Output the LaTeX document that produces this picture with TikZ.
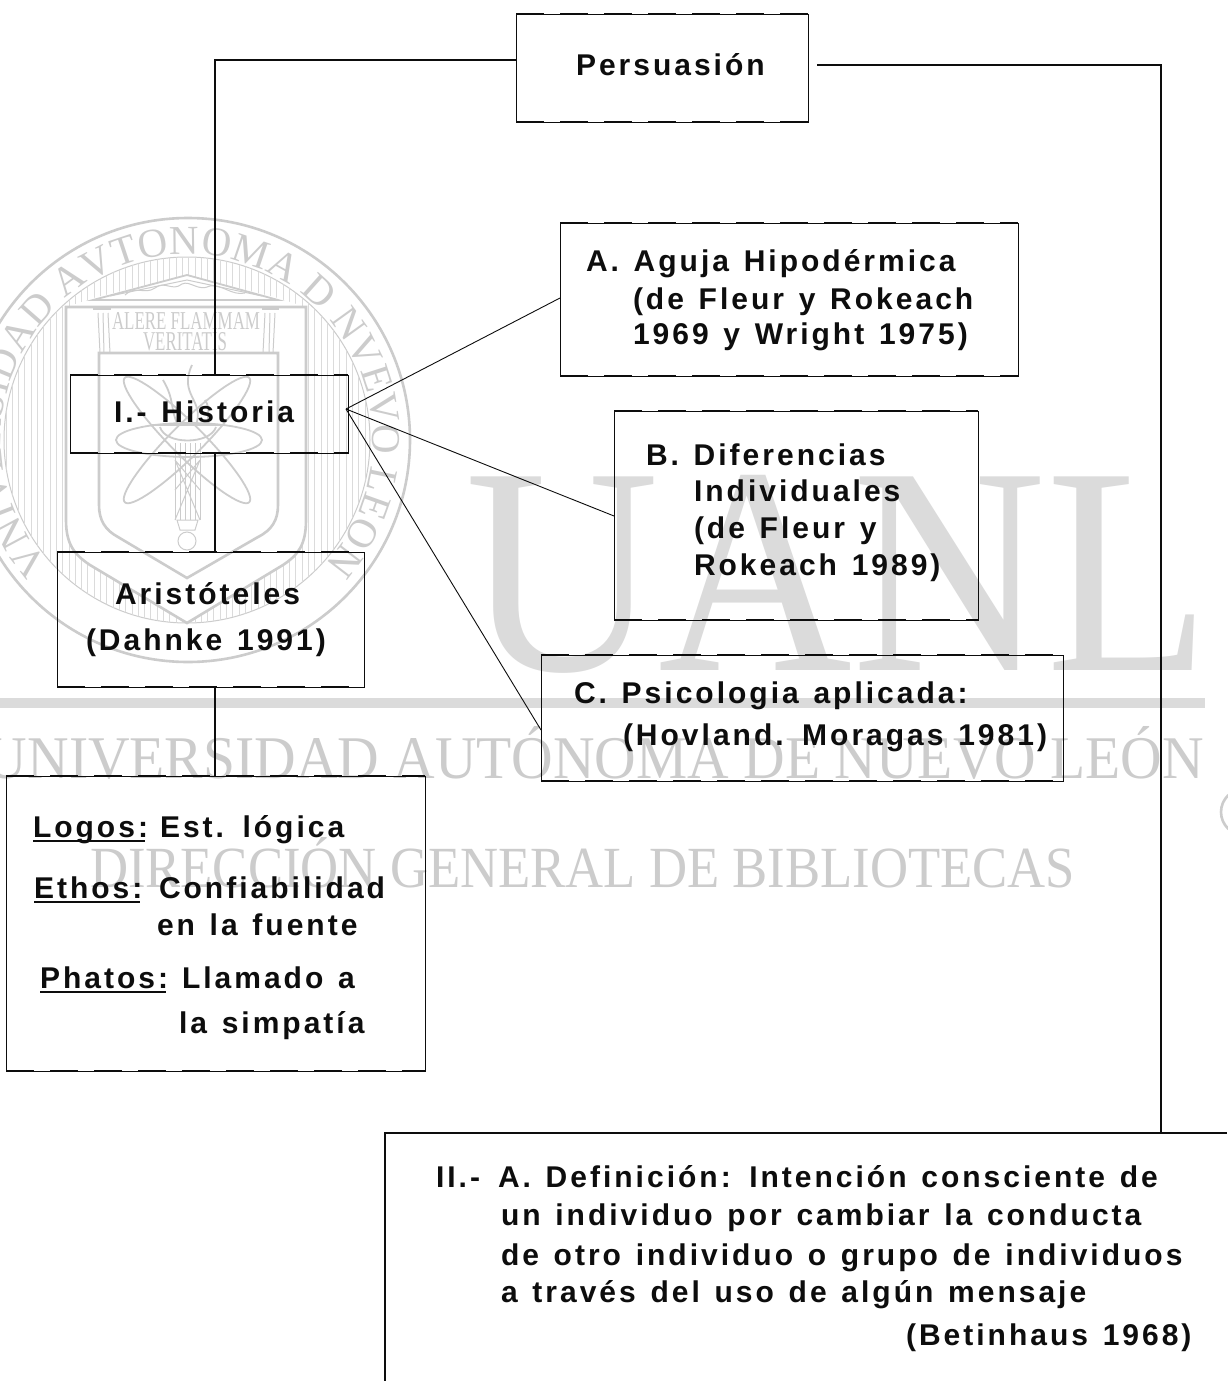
\documentclass[tikz,border=0pt]{standalone}
\usepackage{fontspec}
\usepackage{graphicx}
\usetikzlibrary{decorations.text}
\setmainfont{Liberation Serif}
\newfontfamily\lab[LetterSpace=10,WordSpace=1.3,BoldFont={Liberation Sans Bold}]{Liberation Sans}
\newfontfamily\wmserif{Liberation Serif}
\definecolor{wm}{gray}{0.80}
\definecolor{wmlight}{gray}{0.86}
\definecolor{ink}{gray}{0.05}
\newsavebox\ulbox
\newcommand\ulword[1]{\sbox\ulbox{#1}\rlap{\rule[-5pt]{\dimexpr\wd\ulbox-2.5pt\relax}{2.2pt}}\usebox\ulbox}
\tikzset{
  boxn/.style={draw=ink,line width=0.95pt,inner sep=0pt,outer sep=0pt},
  heavyedge/.style={draw=ink,line width=2.4pt,dash pattern=on 28pt off 16pt},
  conn/.style={draw=ink,line width=1.3pt},
  thinconn/.style={draw=ink,line width=0.9pt},
  txt/.style={anchor=base west,inner sep=0pt,outer sep=0pt,text=ink,font=\lab\bfseries\fontsize{30pt}{30pt}\selectfont},
  wmline/.style={draw=wm,line width=2.6pt,fill=none},
  wmthin/.style={draw=wm,line width=1pt},
  wmmid/.style={draw=wm,line width=1.8pt},
  wmtext/.style={anchor=base west,inner sep=0pt,outer sep=0pt,text=wm}
}
\newcommand\mkbox[5]{% name x1 y1 x2 y2
  \path (#2,#3) coordinate (#1nw) (#4,#5) coordinate (#1se) (#4,#3) coordinate (#1ne) (#2,#5) coordinate (#1sw);
  \node[boxn,minimum width={(#4-#2)*1pt},minimum height={(#5-#3)*1pt},anchor=north west] (#1) at (#2,#3) {};
  \path[heavyedge] (#1nw) -- (#1ne) (#1sw) -- (#1se);
}
\begin{document}
\begin{tikzpicture}[x=1pt,y=-1pt]
\useasboundingbox (0,0) rectangle (1227,1381);
\fill[white] (0,0) rectangle (1227,1381);
% ---------- watermark ----------
\draw[wmline] (188,440) circle [radius=222pt];
\draw[wmthin] (187,440) circle [radius=183pt];
\begin{scope}[even odd rule]
  \clip (187,440) circle [radius=183pt]
     (66,307) -- (93,298) -- (187,275) -- (278,298) -- (306,307) -- (306,520) .. controls (306,545) and (298,555) .. (283,565) -- (187,623) -- (90,565) .. controls (75,555) and (66,545) .. (66,520) -- cycle;
  \foreach \x in {6,12.3,...,370} \draw[wmlight,line width=1pt] (\x,250) -- (\x,630);
\end{scope}
\path[decorate,decoration={text along path,text align={fit to path},
  text={|\wmserif\fontsize{41pt}{41pt}\selectfont\color{wm}|VNIVERSIDAD AVTONOMA D NVEVO LEON}}]
  (187,440) ++(222:186pt) arc [start angle=222,end angle=-42,radius=186pt];
% shields
\draw[wmline] (66,307) -- (66,520) .. controls (66,545) and (75,555) .. (90,565) -- (187,623) -- (283,565) .. controls (298,555) and (306,545) .. (306,520) -- (306,307) -- cycle;
\draw[wmline] (99,353) -- (278,353) -- (278,505) .. controls (278,520) and (272,530) .. (258,537) -- (187,578) -- (118,537) .. controls (105,530) and (99,520) .. (99,505) -- cycle;
% pediment and columns
\draw[wmmid] (93,300) -- (187,275) -- (278,300) -- cycle;
\draw[wmthin] (110,296) -- (187,280) -- (262,296);
\draw[wmthin] (125,295) .. controls (135,285) and (145,295) .. (155,288) .. controls (165,280) and (172,292) .. (182,284) .. controls (190,280) and (198,292) .. (210,286) .. controls (222,284) and (232,296) .. (245,293);
\draw[wmmid] (93,309) -- (111,309) (262,309) -- (279,309);
\draw[wmthin] (98,313) -- (100,353) (103,313) -- (104,353) (108,313) -- (110,353);
\draw[wmthin] (275,313) -- (273,353) (270,313) -- (269,353) (265,313) -- (263,353);
\node[wmtext,font=\wmserif] (wmalere) at (112,329) {\resizebox{148pt}{17pt}{ALERE FLAMMAM}};
\node[wmtext,font=\wmserif] (wmverit) at (143,350) {\resizebox{84pt}{18pt}{VERITATIS}};
% atom
\draw[wmmid] (189,440) ellipse [x radius=73pt,y radius=17pt];
\draw[wmmid,rotate around={45:(187,440)}] (187,440) ellipse [x radius=88pt,y radius=16pt];
\draw[wmmid,rotate around={-45:(187,440)}] (187,440) ellipse [x radius=88pt,y radius=16pt];
% torch
\draw[wmmid] (150,425) -- (223,425) (160,427) .. controls (165,445) and (210,445) .. (216,427);
\draw[wmmid] (163,380) .. controls (175,400) and (170,410) .. (178,425) (192,365) .. controls (178,395) and (205,400) .. (196,425) (205,400) .. controls (212,410) and (205,420) .. (210,425);
\foreach \x in {175,180,...,200} \draw[wmthin] (\x,443) -- (\x,520);
\draw[wmthin] (175,460) -- (200,520) (200,460) -- (175,520) (175,490) -- (200,460) (175,460) -- (200,490);
\draw[wmthin] (177,520) -- (198,520) -- (195,530) -- (180,530) -- cycle;
\draw[wmthin] (187,541) circle [radius=9pt];
% big letters
\node[wmtext,text=wmlight,font=\wmserif] (wmuanl) at (465,670) {\resizebox{745pt}{195pt}{UANL}};
\fill[wmlight] (0,698) rectangle (1205,708);
\node[wmtext] (wmuni) at (-14,778) {\resizebox{1218pt}{52pt}{UNIVERSIDAD AUTÓNOMA DE NUEVO LEÓN}};
\node[wmtext] (wmdir) at (90,887) {\resizebox{985pt}{50pt}{DIRECCIÓN GENERAL DE BIBLIOTECAS}};
\draw[wmline] (1244,812) circle [radius=23pt];
% ---------- boxes ----------
\mkbox{pers}{516}{14}{808}{122}
\mkbox{hist}{70}{375}{348}{453}
\mkbox{arist}{57}{552}{364}{687}
\mkbox{logos}{6}{776}{425}{1071}
\mkbox{aguja}{560}{223}{1018}{376}
\mkbox{difer}{614}{411}{978}{620}
\mkbox{psico}{541}{655}{1063}{781}
% open box running off the page
\coordinate (defsw) at (385,1381);
\coordinate (defnw) at (385,1133);
\coordinate (defne) at (1227,1133);
\draw[conn] (defsw) -- (defnw) -- (defne);
\path[heavyedge] (defnw) -- (defne);
% ---------- connectors ----------
\coordinate (pl) at (516,60);
\coordinate (lcorner) at (215,60);
\coordinate (histtop) at (215,375);
\draw[conn] (pl) -- (lcorner) -- (histtop);
\coordinate (pr) at (817,65);
\coordinate (rcorner) at (1161,65);
\coordinate (deftop) at (1161,1133);
\draw[conn] (pr) -- (rcorner) -- (deftop);
\draw[conn] (hist.south -| histtop) -- (arist.north -| histtop);
\draw[conn] (arist.south -| histtop) -- (logos.north -| histtop);
\coordinate (fan) at (346,409);
\coordinate (fa) at (560,298);
\coordinate (fb) at (614,516);
\coordinate (fc) at (541,730);
\draw[thinconn] (fan) -- (fa);
\draw[thinconn] (fan) -- (fb);
\draw[thinconn] (fan) -- (fc);
% ---------- labels ----------
\node[txt] (t1) at (576,76) {Persuasión};
\node[txt] (t2) at (586,271) {A. Aguja Hipodérmica};
\node[txt] (t3) at (633,309) {(de Fleur y Rokeach};
\node[txt] (t4) at (633,344) {1969 y Wright 1975)};
\node[txt] (t5) at (646,465) {B. Diferencias};
\node[txt] (t6) at (694,501) {Individuales};
\node[txt] (t7) at (694,538) {(de Fleur y};
\node[txt] (t8) at (694,575) {Rokeach 1989)};
\node[txt] (t9) at (574,703) {C. Psicologia aplicada:};
\node[txt] (t10) at (623,745) {(Hovland. Moragas 1981)};
\node[txt] (t11) at (114,422) {I.- Historia};
\node[txt] (t12) at (115,604) {Aristóteles};
\node[txt] (t13) at (86,650) {(Dahnke 1991)};
\node[txt] (t14) at (33,837) {\ulword{Logos:}};
\node[txt] (t15) at (160,837) {Est. lógica};
\node[txt] (t16) at (34,898) {\ulword{Ethos:}};
\node[txt] (t17) at (159,898) {Confiabilidad};
\node[txt] (t18) at (157,935) {en la fuente};
\node[txt] (t19) at (40,988) {\ulword{Phatos:}};
\node[txt] (t20) at (182,988) {Llamado a};
\node[txt] (t21) at (179,1033) {la simpatía};
\node[txt] (t22) at (436,1187) {II.-};
\node[txt] (t23) at (498,1187) {A. Definición: Intención consciente de};
\node[txt] (t24) at (501,1225) {un individuo por cambiar la conducta};
\node[txt] (t25) at (501,1265) {de otro individuo o grupo de individuos};
\node[txt] (t26) at (501,1302) {a través del uso de algún mensaje};
\node[txt] (t27) at (906,1345) {(Betinhaus 1968)};
\end{tikzpicture}
\end{document}
